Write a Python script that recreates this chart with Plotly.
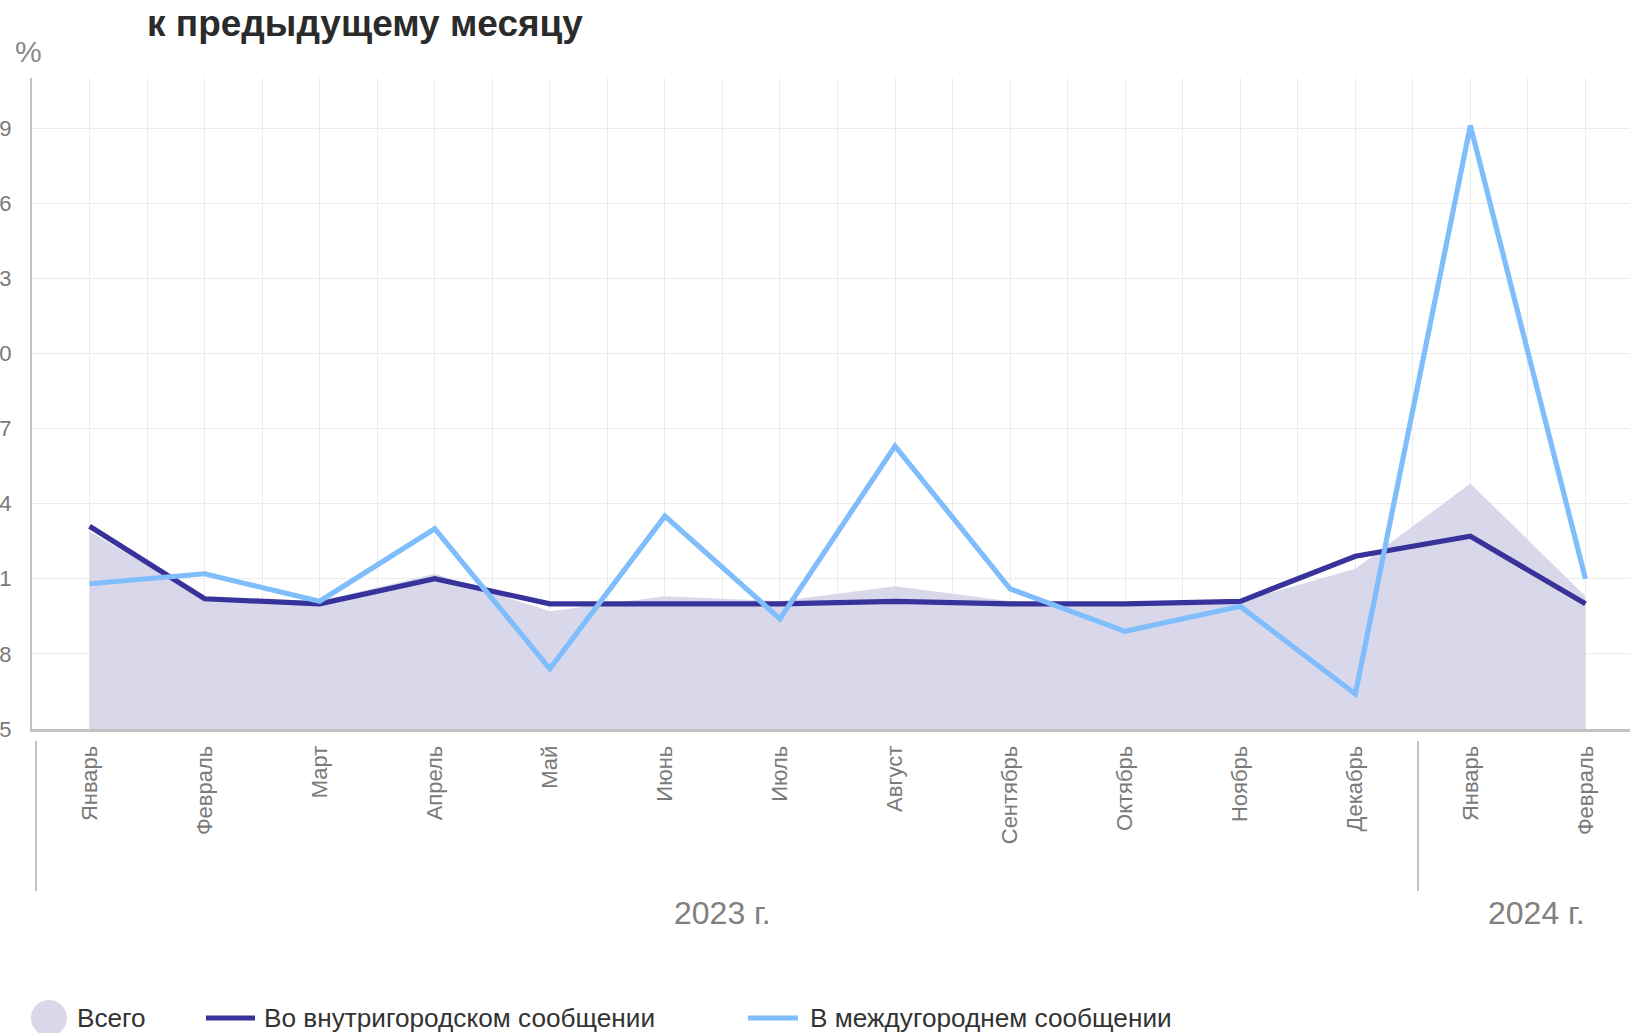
import plotly.graph_objects as go

# ---- data ----
months = ["Январь", "Февраль", "Март", "Апрель", "Май", "Июнь", "Июль",
          "Август", "Сентябрь", "Октябрь", "Ноябрь", "Декабрь", "Январь", "Февраль"]
years = ["2023 г.", "2024 г."]
total = [102.9, 100.2, 100.1, 101.2, 99.7, 100.3, 100.1, 100.7, 100.1, 100.0, 100.1, 101.4, 104.8, 100.3]
urban = [103.1, 100.2, 100.0, 101.0, 100.0, 100.0, 100.0, 100.1, 100.0, 100.0, 100.1, 101.9, 102.7, 100.0]
intercity = [100.8, 101.2, 100.1, 103.0, 97.4, 103.5, 99.4, 106.3, 100.6, 98.9, 99.9, 96.4, 119.1, 101.0]
y_ticks = [95, 98, 101, 104, 107, 110, 113, 116, 119]
series_names = ["Всего", "Во внутригородском сообщении", "В междугороднем сообщении"]

x_idx = list(range(len(months)))

# ---- geometry (the page is a crop of a wider chart) ----
S = 60                # hidden part on the left
W, H = 1760, 1060
ML, MR, MT, MB = S + 32, 57, 78, 331
PW, PH = W - ML - MR, H - MT - MB
PLOT_BOTTOM = MT + PH  # window y of plot bottom


def px(wx):
    return (wx + S - ML) / PW


def py(wy):
    return (PLOT_BOTTOM - wy) / PH


C_AREA = "#d9d8ea"
C_DARK = "#38339a"
C_LIGHT = "#80bdfc"
GRID = "#ebebeb"
AX = "#c2c2c2"
FONT = "Liberation Sans, Arial, sans-serif"

fig = go.Figure()
fig.add_trace(go.Scatter(x=x_idx, y=total, name=series_names[0], mode="lines",
                         fill="tozeroy", fillcolor=C_AREA, line=dict(width=0, color=C_AREA)))
fig.add_trace(go.Scatter(x=x_idx, y=urban, name=series_names[1], mode="lines",
                         line=dict(width=5.2, color=C_DARK)))
fig.add_trace(go.Scatter(x=x_idx, y=intercity, name=series_names[2], mode="lines",
                         line=dict(width=5.2, color=C_LIGHT)))

fig.update_xaxes(range=[-0.5, 13.5], tickvals=x_idx, ticktext=months, tickangle=-90,
                 showgrid=True, gridcolor=GRID, gridwidth=1.3,
                 minor=dict(tick0=0.5, dtick=1, showgrid=True, gridcolor=GRID, gridwidth=1.3),
                 showline=True, linecolor=AX, linewidth=2.8, zeroline=False,
                 ticks="", ticklabelstandoff=5,
                 tickfont=dict(family=FONT, size=22, color="#7a7a7a"))
fig.update_yaxes(range=[95, 121], tickvals=y_ticks, showgrid=True, gridcolor=GRID, gridwidth=1.3,
                 showline=True, linecolor=AX, linewidth=2.2, zeroline=False,
                 ticks="", ticklabelstandoff=14,
                 tickfont=dict(family=FONT, size=22, color="#7a7a7a"))

shapes = []
annotations = []

# title and unit
annotations.append(dict(text="<b>к предыдущему месяцу</b>", x=px(145), y=py(23), xref="paper", yref="paper",
                        xanchor="left", yanchor="middle", showarrow=False,
                        font=dict(family=FONT, size=37, color="#2b2b2b")))
annotations.append(dict(text="%", x=px(13), y=py(51), xref="paper", yref="paper",
                        xanchor="left", yanchor="middle", showarrow=False,
                        font=dict(family=FONT, size=30, color="#8a8a8a")))

# year group separators and labels
for sx in (36, 1418):
    shapes.append(dict(type="line", xref="paper", yref="paper", x0=px(sx), x1=px(sx),
                       y0=py(741), y1=py(891), line=dict(color=AX, width=2)))
for label, cx in zip(years, (722, 1536)):
    annotations.append(dict(text=label, x=px(cx), y=py(913), xref="paper", yref="paper",
                            xanchor="center", yanchor="middle", showarrow=False,
                            font=dict(family=FONT, size=32, color="#808080")))

# manual legend
LY = 1018
shapes.append(dict(type="circle", xref="paper", yref="paper", x0=px(31), x1=px(67),
                   y0=py(LY - 18), y1=py(LY + 18), fillcolor=C_AREA, line=dict(width=0)))
shapes.append(dict(type="line", xref="paper", yref="paper", x0=px(206), x1=px(255),
                   y0=py(LY), y1=py(LY), line=dict(color=C_DARK, width=5)))
shapes.append(dict(type="line", xref="paper", yref="paper", x0=px(748), x1=px(798),
                   y0=py(LY), y1=py(LY), line=dict(color=C_LIGHT, width=5)))
for name, lx in zip(series_names, (75, 262, 808)):
    annotations.append(dict(text=name, x=px(lx), y=py(LY), xref="paper", yref="paper",
                            xanchor="left", yanchor="middle", showarrow=False,
                            font=dict(family=FONT, size=26.2, color="#333333")))

fig.update_layout(width=W, height=H, autosize=False,
                  margin=dict(l=ML, r=MR, t=MT, b=MB, pad=0),
                  paper_bgcolor="white", plot_bgcolor="white",
                  showlegend=False, shapes=shapes, annotations=annotations,
                  font=dict(family=FONT))

post = ("var gd=document.getElementById('{plot_id}');"
        "gd.style.position='absolute';gd.style.left='-%dpx';gd.style.top='0px';"
        "document.body.style.margin='0';document.body.style.overflow='hidden';"
        "document.documentElement.style.overflow='hidden';") % S

fig.write_html("out.html", post_script=post, config={"displayModeBar": False})
